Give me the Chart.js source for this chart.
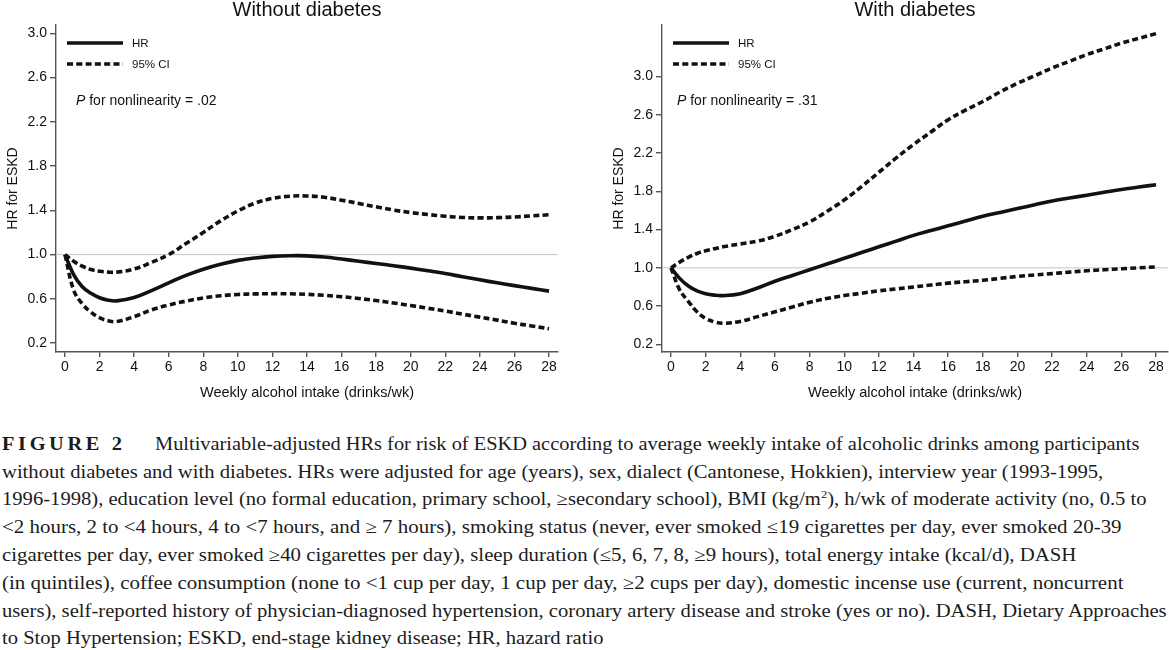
<!DOCTYPE html>
<html>
<head>
<meta charset="utf-8">
<script src="https://cdn.jsdelivr.net/npm/chart.js@4.4.1/dist/chart.umd.min.js"></script>
<style>
  html,body{margin:0;padding:0;background:#fff;}
  body{width:1169px;height:650px;overflow:hidden;position:relative;}
  #w1{position:absolute;left:0;top:0;width:580px;height:410px;}
  #w2{position:absolute;left:606px;top:0;width:563px;height:410px;}
  .cap{position:absolute;left:2px;white-space:nowrap;font-family:"Liberation Serif","DejaVu Serif",serif;
       font-size:18px;line-height:28px;height:28px;color:#1c1c1c;transform-origin:0 50%;}
  .fig{font-weight:bold;letter-spacing:3.2px;}
</style>
</head>
<body>
<div id="w1"><canvas id="c1"></canvas></div>
<div id="w2"><canvas id="c2"></canvas></div>

<div class="cap" style="top:430px" data-w="1137"><span class="fig">FIGURE 2</span><span style="display:inline-block;width:26px"></span>Multivariable-adjusted HRs for risk of ESKD according to average weekly intake of alcoholic drinks among participants</div>
<div class="cap" style="top:458px" data-w="1101">without diabetes and with diabetes. HRs were adjusted for age (years), sex, dialect (Cantonese, Hokkien), interview year (1993-1995,</div>
<div class="cap" style="top:485px" data-w="1145">1996-1998), education level (no formal education, primary school, ≥secondary school), BMI (kg/m<sup style="font-size:11px;line-height:0">2</sup>), h/wk of moderate activity (no, 0.5 to</div>
<div class="cap" style="top:513px" data-w="1120">&lt;2 hours, 2 to &lt;4 hours, 4 to &lt;7 hours, and ≥ 7 hours), smoking status (never, ever smoked ≤19 cigarettes per day, ever smoked 20-39</div>
<div class="cap" style="top:541px" data-w="1074">cigarettes per day, ever smoked ≥40 cigarettes per day), sleep duration (≤5, 6, 7, 8, ≥9 hours), total energy intake (kcal/d), DASH</div>
<div class="cap" style="top:569px" data-w="1122">(in quintiles), coffee consumption (none to &lt;1 cup per day, 1 cup per day, ≥2 cups per day), domestic incense use (current, noncurrent</div>
<div class="cap" style="top:597px" data-w="1165">users), self-reported history of physician-diagnosed hypertension, coronary artery disease and stroke (yes or no). DASH, Dietary Approaches</div>
<div class="cap" style="top:624px" data-w="601">to Stop Hypertension; ESKD, end-stage kidney disease; HR, hazard ratio</div>

<script>
// ---------- DATA ----------
const intake = [0,0.5,1,1.5,2,2.5,3,4,5,6,7,8,9,10,11,12,13,14,15,16,17,18,19,20,21,22,23,24,25,26,27,28];

const hrNoDiab    = [1.0,0.82,0.71,0.65,0.61,0.588,0.582,0.612,0.675,0.745,0.812,0.868,0.913,0.948,0.97,0.984,0.99,0.989,0.978,0.96,0.94,0.92,0.90,0.878,0.854,0.829,0.80,0.772,0.745,0.72,0.695,0.67];
const loNoDiab    = [1.0,0.68,0.555,0.48,0.43,0.402,0.395,0.44,0.50,0.545,0.58,0.608,0.628,0.64,0.645,0.647,0.646,0.641,0.632,0.62,0.603,0.585,0.563,0.54,0.515,0.49,0.462,0.435,0.408,0.38,0.355,0.33];
const hiNoDiab    = [1.0,0.94,0.895,0.865,0.85,0.842,0.842,0.87,0.93,1.0,1.10,1.20,1.305,1.395,1.465,1.508,1.528,1.53,1.518,1.492,1.462,1.432,1.403,1.38,1.362,1.347,1.336,1.332,1.334,1.34,1.35,1.36];

const hrDiab      = [1.0,0.89,0.81,0.76,0.73,0.715,0.71,0.73,0.79,0.86,0.92,0.98,1.04,1.10,1.16,1.22,1.28,1.34,1.39,1.44,1.49,1.54,1.58,1.62,1.66,1.70,1.73,1.76,1.79,1.82,1.845,1.87];
const loDiab      = [1.0,0.77,0.65,0.54,0.47,0.435,0.42,0.44,0.49,0.54,0.59,0.64,0.68,0.71,0.735,0.76,0.78,0.80,0.82,0.84,0.855,0.87,0.89,0.91,0.925,0.94,0.955,0.97,0.98,0.99,1.0,1.01];
const hiDiab      = [1.0,1.06,1.11,1.15,1.18,1.20,1.22,1.25,1.28,1.33,1.40,1.48,1.59,1.71,1.85,2.0,2.15,2.29,2.42,2.55,2.65,2.74,2.84,2.93,3.01,3.09,3.16,3.23,3.29,3.35,3.40,3.45];

const xTicks = [0,2,4,6,8,10,12,14,16,18,20,22,24,26,28];
const yTicks = [0.2,0.6,1.0,1.4,1.8,2.2,2.6,3.0];
const refValue = 1.0;
const seriesLabels = ["HR","95% CI"];
const titles = ["Without diabetes","With diabetes"];
const pTexts = [" for nonlinearity = .02"," for nonlinearity = .31"];
const xTitle = "Weekly alcohol intake (drinks/wk)";
const yTitle = "HR for ESKD";

// ---------- PLUGIN ----------
const overlay = {
  id: 'overlay',
  beforeDatasetsDraw(chart) {
    const {ctx, chartArea: a, scales: {y}} = chart;
    const py = y.getPixelForValue(refValue);
    ctx.save();
    ctx.strokeStyle = '#c4c4c4';
    ctx.lineWidth = 1;
    ctx.beginPath();
    ctx.moveTo(a.left, py); ctx.lineTo(a.right, py);
    ctx.stroke();
    ctx.restore();
  },
  afterDraw(chart, args, o) {
    const {ctx, chartArea: a} = chart;
    ctx.save();
    ctx.fillStyle = '#111';
    ctx.font = '20px "Liberation Sans", Arial, sans-serif';
    ctx.textAlign = 'center';
    ctx.textBaseline = 'middle';
    ctx.fillText(o.title, (a.left + a.right) / 2, 10);
    const ds = chart.data.datasets;
    const rows = [[ds[0], 43], [ds[1], 64]];
    rows.forEach(([d, yy]) => {
      ctx.strokeStyle = d.borderColor;
      ctx.lineWidth = d.borderWidth;
      ctx.setLineDash(d.borderDash || []);
      ctx.beginPath();
      ctx.moveTo(a.left + 11, yy); ctx.lineTo(a.left + 67, yy);
      ctx.stroke();
      ctx.setLineDash([]);
      ctx.font = '11.5px "Liberation Sans", Arial, sans-serif';
      ctx.textAlign = 'left';
      ctx.fillStyle = '#111';
      ctx.fillText(d.label, a.left + 76, yy + 0.5);
    });
    const px = a.left + o.pOffset, py = 101;
    ctx.font = 'italic 14px "Liberation Sans", Arial, sans-serif';
    ctx.fillText('P', px, py);
    const w = ctx.measureText('P').width;
    ctx.font = '14px "Liberation Sans", Arial, sans-serif';
    ctx.fillText(o.pText, px + w, py);
    ctx.restore();
  }
};

function pts(ys) { return intake.map((x, i) => ({x: x, y: ys[i]})); }

function makeChart(id, idx, hr, lo, hi, xMax, yMax, padRight, pOffset) {
  const axisColor = '#555';
  const tickFont = {family: '"Liberation Sans", Arial, sans-serif', size: 14};
  const lineBase = {borderColor: '#111', borderWidth: 3.6, pointRadius: 0, fill: false,
                    tension: 0.4, borderCapStyle: 'butt'};
  return new Chart(document.getElementById(id), {
    type: 'line',
    data: {
      datasets: [
        Object.assign({label: seriesLabels[0], data: pts(hr)}, lineBase),
        Object.assign({label: seriesLabels[1], data: pts(lo), borderDash: [6, 3.3]}, lineBase),
        Object.assign({label: seriesLabels[1], data: pts(hi), borderDash: [6, 3.3]}, lineBase)
      ]
    },
    options: {
      responsive: true,
      maintainAspectRatio: false,
      animation: false,
      devicePixelRatio: 1,
      layout: {padding: {top: 25, right: padRight, bottom: 0, left: 0}},
      plugins: {
        legend: {display: false},
        tooltip: {enabled: false},
        title: {display: false},
        overlay: {title: titles[idx], pText: pTexts[idx], pOffset: pOffset}
      },
      scales: {
        x: {
          type: 'linear', min: -0.52, max: xMax,
          afterBuildTicks: s => { s.ticks = xTicks.map(v => ({value: v})); },
          afterFit: s => { s.height = 58; },
          ticks: {font: tickFont, color: '#111', padding: 2, maxRotation: 0, autoSkip: false,
                  callback: v => String(v)},
          grid: {drawOnChartArea: false, drawTicks: true, tickLength: 5, color: axisColor, lineWidth: 1.4},
          border: {display: true, color: axisColor, width: 1.4},
          title: {display: true, text: xTitle, color: '#111',
                  font: {family: '"Liberation Sans", Arial, sans-serif', size: 14.5},
                  padding: {top: 0, bottom: 8}}
        },
        y: {
          type: 'linear', min: 0.12, max: yMax,
          afterBuildTicks: s => { s.ticks = yTicks.map(v => ({value: v})); },
          afterFit: s => { s.width = 56; },
          ticks: {font: tickFont, color: '#111', padding: 3, callback: v => v.toFixed(1)},
          grid: {drawOnChartArea: false, drawTicks: true, tickLength: 6, color: axisColor, lineWidth: 1.4},
          border: {display: true, color: axisColor, width: 1.4},
          title: {display: true, text: yTitle, color: '#111',
                  font: {family: '"Liberation Sans", Arial, sans-serif', size: 14},
                  padding: {top: 4.5, bottom: 0}}
        }
      }
    },
    plugins: [overlay]
  });
}

makeChart('c1', 0, hrNoDiab, loNoDiab, hiNoDiab, 28.52, 3.075, 22, 20);
makeChart('c2', 1, hrDiab, loDiab, hiDiab, 28.69, 3.54, 1, 15);

function fitCaption() {
  document.querySelectorAll('.cap').forEach(el => {
    el.style.transform = 'none';
    const w = el.scrollWidth;
    const target = parseFloat(el.dataset.w);
    el.style.transform = 'scaleX(' + (target / w) + ')';
  });
}
if (document.fonts && document.fonts.ready) { document.fonts.ready.then(fitCaption); }
fitCaption();
</script>
</body>
</html>
